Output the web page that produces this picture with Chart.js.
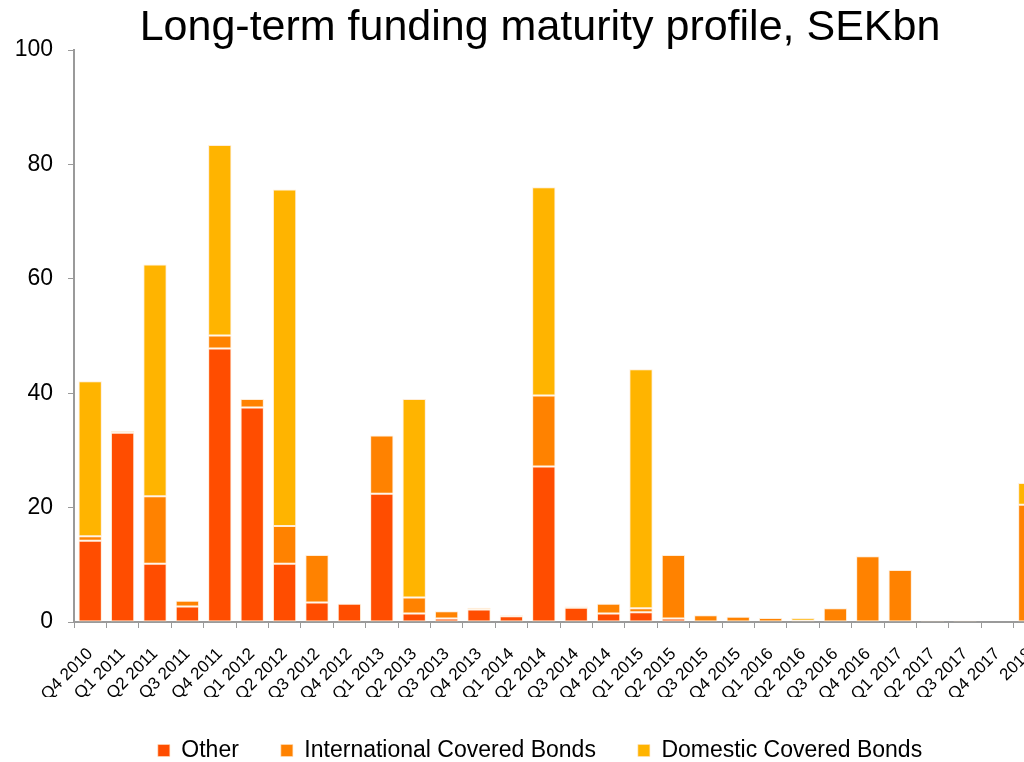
<!DOCTYPE html>
<html>
<head>
<meta charset="utf-8">
<script src="https://cdn.jsdelivr.net/npm/chart.js@4"></script>
<style>
  html, body { margin: 0; padding: 0; background: #fff; overflow: hidden; }
  #wrap { width: 1080px; height: 762px; }
</style>
</head>
<body>
<div id="wrap"><canvas id="fundingChart" width="1080" height="762"></canvas></div>
<script>
// maturity profile, SEKbn per quarter
const categories = ['Q4 2010', 'Q1 2011', 'Q2 2011', 'Q3 2011', 'Q4 2011', 'Q1 2012', 'Q2 2012', 'Q3 2012',
    'Q4 2012', 'Q1 2013', 'Q2 2013', 'Q3 2013', 'Q4 2013', 'Q1 2014', 'Q2 2014', 'Q3 2014', 'Q4 2014',
    'Q1 2015', 'Q2 2015', 'Q3 2015', 'Q4 2015', 'Q1 2016', 'Q2 2016', 'Q3 2016', 'Q4 2016', 'Q1 2017',
    'Q2 2017', 'Q3 2017', 'Q4 2017', '2018'];
const other = [14.2, 33.1, 10.2, 2.7, 47.8, 37.5, 10.2, 3.4, 3.2, 22.4, 1.5, 0.6, 2.2, 1.0, 27.2, 2.5, 1.5,
    1.7, 0.6, 0, 0, 0, 0, 0, 0, 0, 0, 0, 0, 0];
const international = [0.8, 0.3, 11.8, 1.0, 2.3, 1.5, 6.6, 8.3, 0, 10.2, 2.8, 1.3, 0.3, 0.2, 12.4, 0.2, 1.7,
    0.7, 11.1, 1.2, 0.9, 0.7, 0.2, 2.4, 11.5, 9.1, 0.2, 0.2, 0, 20.5];
const domestic = [27.1, 0, 40.5, 0, 33.3, 0, 58.8, 0, 0, 0, 34.7, 0, 0, 0, 36.4, 0, 0,
    41.8, 0, 0, 0, 0, 0.5, 0, 0, 0, 0, 0, 0, 3.8];
const yTicks = [0, 20, 40, 60, 80, 100];

const font = "'Liberation Sans', Arial, sans-serif";
const axisGrey = '#9a9a9a';

function series(label, values, colour) {
    return {
        label: label,
        data: values,
        backgroundColor: colour,
        borderColor: 'rgba(255, 225, 190, 0.6)',
        borderWidth: 1,
        borderSkipped: false,
        categoryPercentage: 1,
        barPercentage: 0.72
    };
}

new Chart(document.getElementById('fundingChart').getContext('2d'), {
    type: 'bar',
    data: {
        labels: categories,
        datasets: [
            series('Other', other, '#ff4d00'),
            series('International Covered Bonds', international, '#ff8200'),
            series('Domestic Covered Bonds', domestic, '#ffb400')
        ]
    },
    options: {
        responsive: false,
        animation: false,
        layout: { padding: { left: 0, right: 0, top: 0, bottom: -10 } },
        plugins: {
            title: {
                display: true,
                text: 'Long-term funding maturity profile, SEKbn',
                color: '#000',
                font: { family: font, size: 43, weight: 'normal', lineHeight: 1.0 },
                padding: { top: 7, bottom: 0 }
            },
            legend: {
                position: 'bottom',
                labels: {
                    color: '#000',
                    font: { family: font, size: 23 },
                    boxWidth: 12,
                    boxHeight: 12,
                    padding: 42
                }
            },
            tooltip: { enabled: false }
        },
        scales: {
            x: {
                stacked: true,
                grid: { drawOnChartArea: false, drawTicks: true, tickLength: 6, color: axisGrey },
                border: { color: axisGrey, width: 2 },
                ticks: {
                    color: '#000',
                    font: { family: font, size: 17 },
                    minRotation: 45,
                    maxRotation: 45,
                    autoSkip: false,
                    padding: 16
                },
                afterFit: function (scale) { scale.height = 75; }
            },
            y: {
                stacked: true,
                min: 0,
                max: 100,
                afterBuildTicks: function (scale) {
                    scale.ticks = yTicks.map(v => ({ value: v }));
                },
                grid: { drawOnChartArea: false, drawTicks: true, tickLength: 6, color: axisGrey },
                border: { color: axisGrey, width: 2 },
                ticks: {
                    color: '#000',
                    font: { family: font, size: 23 },
                    padding: 15
                },
                afterFit: function (scale) { scale.width = 74; }
            },
            // empty spacer so the plot runs past the window edge like the slide
            spacer: {
                type: 'linear',
                position: 'right',
                grid: { display: false },
                border: { display: false },
                ticks: { display: false },
                afterFit: function (scale) { scale.width = 34; }
            }
        }
    }
});
</script>
</body>
</html>
